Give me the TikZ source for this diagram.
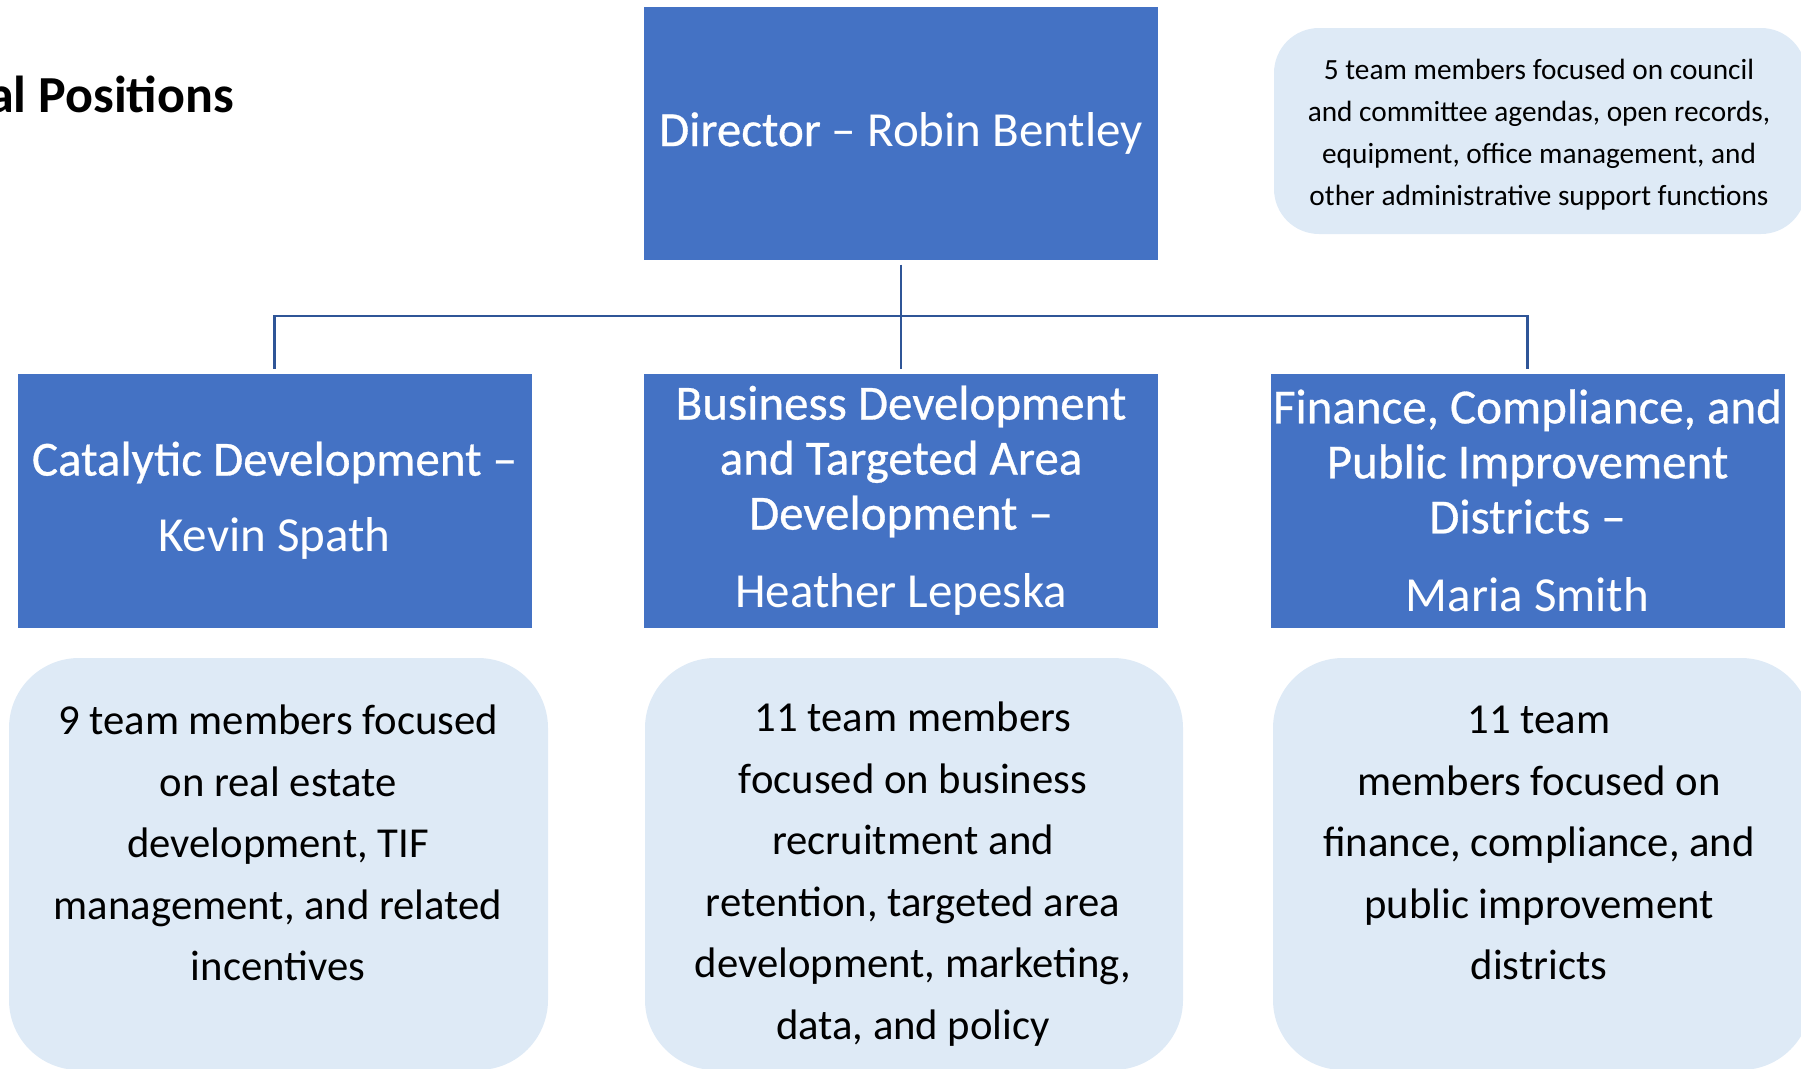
\documentclass[tikz,border=0pt]{standalone}
\usepackage{fontspec}
\setmainfont{Carlito}
\newfontfamily\heavyfont{Carlito}[FakeBold=0.6]
\definecolor{hdblue}{HTML}{4472C4}
\definecolor{paleblue}{HTML}{DEEAF6}
\definecolor{linkblue}{HTML}{2F5597}
\begin{document}
\begin{tikzpicture}[x=1pt,y=-1pt,
  headbox/.style={fill=hdblue, draw=white, line width=1pt, inner sep=0pt,
    minimum width=515pt, minimum height=255pt, text=white, align=center,
    font=\fontsize{49}{55}\selectfont},
  teambox/.style={fill=paleblue, draw=none, rounded corners=70pt, inner sep=0pt,
    minimum width=539pt, minimum height=412pt},
  teamtext/.style={align=center, text=black, font=\fontsize{42.7}{61.5}\selectfont},
  link/.style={draw=linkblue, line width=2.2pt}]
\useasboundingbox (0,0) rectangle (1801,1068);
\clip (0,0) rectangle (1801,1068);

% section heading, running in from the left edge
\node[anchor=base east, inner sep=0pt, font=\fontsize{52}{60}\selectfont\bfseries] (heading) at (234,112) {al Positions};

% director
\node[headbox, minimum height=254pt] (dir) at (901,133) {{\heavyfont Director} – Robin Bentley};

% administrative support note
\node[fill=paleblue, rounded corners=45pt, inner sep=0pt, minimum width=532pt, minimum height=206pt] (admin) at (1540,131) {};
\node[align=center, font=\fontsize{29.3}{42}\selectfont] (admintext) at (1539,135)
  {5 team members focused on council\\and committee agendas, open records,\\equipment, office management, and\\other administrative support functions};

% division heads
\node[headbox] (b1) at (274.5,500.5) {{\heavyfont Catalytic Development –}\\[21pt]Kevin Spath};
\node[headbox] (b2) at (901,500.5) {{\heavyfont Business Development}\\{\heavyfont and Targeted Area}\\{\heavyfont Development –}\\[23pt]Heather Lepeska};
\node[headbox] (b3) at (1527.5,500.5) {{\heavyfont Finance, Compliance, and}\\{\heavyfont Public Improvement}\\{\heavyfont Districts –}\\[23pt]Maria Smith};

% connectors
\coordinate (bus) at (901,316);
\draw[link, shorten <=4pt] (dir.south) -- (bus);
\draw[link, shorten >=4pt] (bus) -| (b1.north);
\draw[link, shorten >=4pt] (bus) -| (b3.north);
\draw[link, shorten >=4pt] (bus) -- (b2.north);

% team descriptions
\node[teambox] (t1) at (278.5,864) {};
\node[teambox, minimum width=538pt] (t2) at (914,864) {};
\node[teambox, minimum width=538pt] (t3) at (1542,864) {};
\node[teamtext] (t1text) at (278,843) {9 team members focused\\on real estate\\development, TIF\\management, and related\\incentives};
\node[teamtext] (t2text) at (913,874) {11 team members\\focused on business\\recruitment and\\retention, targeted area\\development, marketing,\\data, and policy};
\node[teamtext] (t3text) at (1539,843) {11 team\\members focused on\\finance, compliance, and\\public improvement\\districts};
\end{tikzpicture}
\end{document}
